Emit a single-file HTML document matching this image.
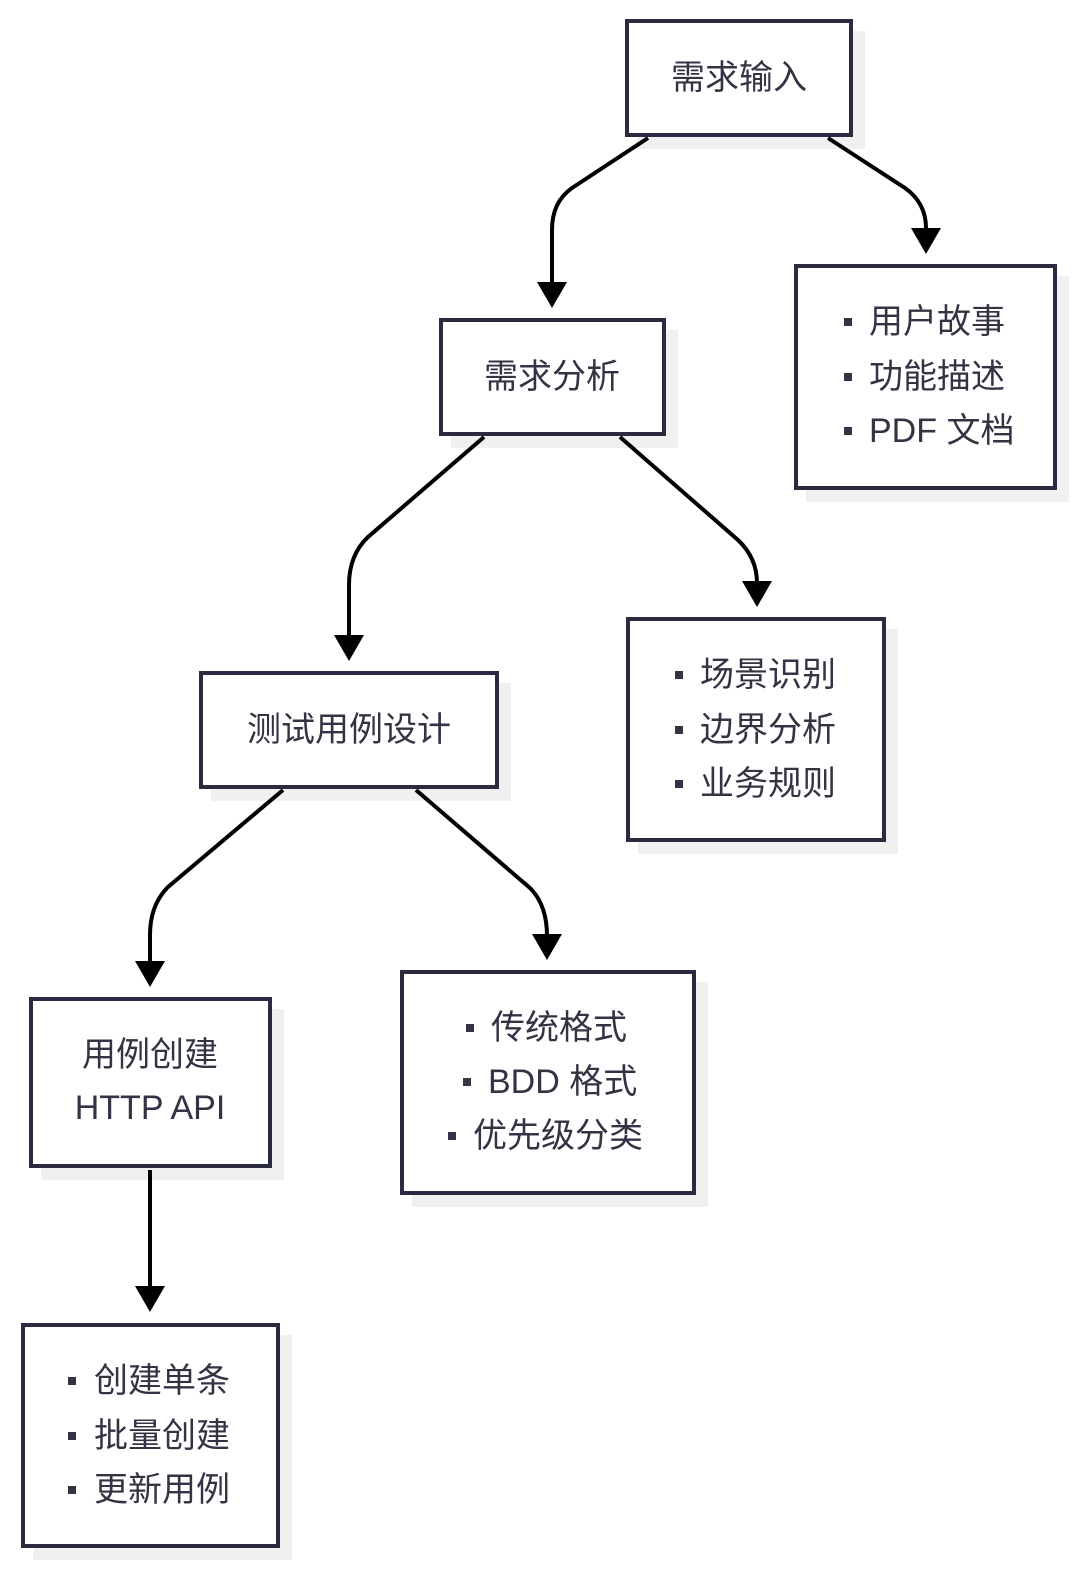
<!DOCTYPE html>
<html><head><meta charset="utf-8"><style>
html,body{margin:0;padding:0;background:#fff}
svg text{font-family:"Liberation Sans","Noto Sans CJK SC",sans-serif;font-size:34px;fill:#333344;dominant-baseline:central}
</style></head><body>
<svg width="1080" height="1571" viewBox="0 0 1080 1571" xmlns="http://www.w3.org/2000/svg">
<defs>
<marker id="a" markerWidth="10" markerHeight="10" refX="5" refY="9" orient="auto" markerUnits="userSpaceOnUse" viewBox="0 0 10 10"></marker>
</defs>
<g fill="#f0f0f0">
<rect x="637" y="31" width="228" height="118"/>
<rect x="806" y="276" width="263" height="226"/>
<rect x="451" y="330" width="227" height="118"/>
<rect x="638" y="629" width="260" height="225"/>
<rect x="211" y="683" width="300" height="118"/>
<rect x="41" y="1009" width="243" height="171"/>
<rect x="412" y="982" width="296" height="225"/>
<rect x="33" y="1335" width="259" height="225"/>
</g>
<g fill="#fff" stroke="#2a2a40" stroke-width="4">
<rect x="627" y="21" width="224" height="114"/>
<rect x="796" y="266" width="259" height="222"/>
<rect x="441" y="320" width="223" height="114"/>
<rect x="628" y="619" width="256" height="221"/>
<rect x="201" y="673" width="296" height="114"/>
<rect x="31" y="999" width="239" height="167"/>
<rect x="402" y="972" width="292" height="221"/>
<rect x="23" y="1325" width="255" height="221"/>
</g>
<g fill="none" stroke="#000" stroke-width="4">
<path d="M648 138 L572 188 Q552 202 552 230 L552 284"/>
<path d="M828 138 L905 188 Q926 203 926 228"/>
<path d="M484 437 L368 537 Q349 555 349 585 L349 637"/>
<path d="M620 437 L738 540 Q757 558 757 583"/>
<path d="M283 790 L168 887 Q150 905 150 935 L150 963"/>
<path d="M416 790 L530 888 Q547 905 547 936"/>
<path d="M150 1170 L150 1288"/>
</g>
<g fill="#000">
<path d="M537 282 L567 282 L552 308Z"/>
<path d="M911 228 L941 228 L926 254Z"/>
<path d="M334 635 L364 635 L349 661Z"/>
<path d="M742 581 L772 581 L757 607Z"/>
<path d="M135 961 L165 961 L150 987Z"/>
<path d="M532 934 L562 934 L547 960Z"/>
<path d="M135 1286 L165 1286 L150 1312Z"/>
</g>
<g text-anchor="middle">
<text x="739" y="78">需求输入</text>
<text x="552" y="377">需求分析</text>
<text x="349" y="730">测试用例设计</text>
<text x="150" y="1055">用例创建</text>
<text x="150" y="1108">HTTP API</text>
</g>
<g fill="#333344">
<rect x="844" y="318" width="8" height="8"/><rect x="844" y="373" width="8" height="8"/><rect x="844" y="427" width="8" height="8"/>
<rect x="675" y="671" width="8" height="8"/><rect x="675" y="726" width="8" height="8"/><rect x="675" y="780" width="8" height="8"/>
<rect x="466" y="1024" width="8" height="8"/><rect x="463" y="1078" width="8" height="8"/><rect x="448" y="1132" width="8" height="8"/>
<rect x="68" y="1377" width="8" height="8"/><rect x="68" y="1432" width="8" height="8"/><rect x="68" y="1486" width="8" height="8"/>
</g>
<text x="869" y="322">用户故事</text>
<text x="869" y="377">功能描述</text>
<text x="869" y="431">PDF 文档</text>
<text x="700" y="675">场景识别</text>
<text x="700" y="730">边界分析</text>
<text x="700" y="784">业务规则</text>
<text x="491" y="1028">传统格式</text>
<text x="488" y="1082">BDD 格式</text>
<text x="473" y="1136">优先级分类</text>
<text x="94" y="1381">创建单条</text>
<text x="94" y="1436">批量创建</text>
<text x="94" y="1490">更新用例</text>
</svg>
</body></html>
